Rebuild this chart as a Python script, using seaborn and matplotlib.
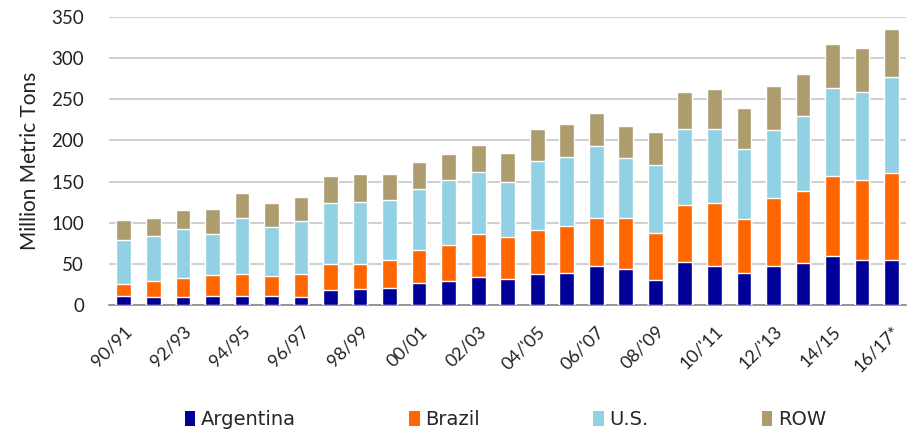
import numpy as np
import pandas as pd
import matplotlib
matplotlib.use("Agg")
import matplotlib.pyplot as plt
from matplotlib.patches import Patch
import seaborn as sns

seasons = ["90/91", "91/92", "92/93", "93/94", "94/95", "95/96", "96/97", "97/98",
           "98/99", "99/00", "00/01", "01/02", "02/03", "03/04", "04/'05", "05/'06",
           "06/'07", "07/'08", "08/'09", "09/'10", "10/'11", "11/'12", "12/'13",
           "13/'14", "14/15", "15/16", "16/17*"]
argentina = [10.5, 9.7, 9.7, 10.9, 11.3, 11.3, 10.1, 18.2, 19.0, 20.2, 27.0, 29.0, 34.3,
             31.1, 37.5, 39.2, 47.2, 44.4, 30.3, 52.5, 47.6, 38.4, 47.6, 51.7, 60.2, 55.3, 55.3]
brazil = [14.9, 19.3, 23.0, 25.4, 26.2, 24.2, 27.4, 32.3, 31.5, 34.3, 39.6, 43.7, 51.7,
          51.7, 53.3, 57.3, 59.0, 61.8, 57.7, 69.4, 75.9, 66.6, 82.4, 87.2, 96.8, 96.9, 104.6]
us = [53.3, 54.6, 59.3, 50.5, 68.3, 59.0, 65.0, 73.8, 74.7, 73.1, 74.7, 78.7, 75.5,
      66.6, 84.8, 83.2, 87.2, 73.0, 81.6, 92.1, 90.5, 84.7, 82.8, 91.2, 106.6, 107.0, 117.1]
row = [24.3, 22.2, 23.9, 29.5, 30.2, 29.0, 28.3, 32.3, 33.8, 31.9, 33.1, 32.3, 33.5,
       35.5, 38.8, 39.9, 40.3, 38.0, 40.7, 45.2, 48.4, 49.3, 53.7, 50.5, 54.1, 52.5, 58.9]
series_names = ["Argentina", "Brazil", "U.S.", "ROW"]
yticks = [0, 50, 100, 150, 200, 250, 300, 350]

colors = {"Argentina": "#000099", "Brazil": "#FF6600", "U.S.": "#92D1E3", "ROW": "#AD9C6E"}

sns.set_theme(style="white")
plt.rcParams["font.family"] = ["Lato", "DejaVu Sans"]

df = pd.DataFrame({"season": seasons, "Argentina": argentina, "Brazil": brazil,
                   "U.S.": us, "ROW": row})
cum = df[series_names].cumsum(axis=1)

fig = plt.figure(figsize=(9.09, 4.34), dpi=100)
ax = fig.add_axes([0.12, 0.297, 0.877, 0.664])

for name in reversed(series_names):
    sns.barplot(x=df["season"], y=cum[name], color=colors[name], width=0.5,
                edgecolor="white", linewidth=1.0, saturation=1, ax=ax, zorder=3)

ax.set_ylim(0, 350)
ax.set_xlim(-0.5, len(seasons) - 0.5)
ax.set_yticks(yticks)
ax.set_yticklabels([str(v) for v in yticks], fontsize=13.5, color="#222222")
ax.yaxis.grid(True, color="#D0D0D0", linewidth=1.5, zorder=0)
ax.set_axisbelow(True)
ax.set_xticks(range(0, len(seasons), 2))
ax.set_xticklabels(seasons[::2], rotation=45, ha="right", rotation_mode="anchor",
                   fontsize=13, color="#222222")
ax.tick_params(axis="y", length=0, pad=18)
ax.tick_params(axis="x", length=0, pad=13)
for s in ["top", "right", "left"]:
    ax.spines[s].set_visible(False)
ax.spines["bottom"].set_color("#888888")
ax.spines["bottom"].set_linewidth(1.2)
ax.set_xlabel("")
ax.set_ylabel("Million Metric Tons", fontsize=15, color="#222222", labelpad=8)

handles = [Patch(facecolor=colors[n], edgecolor="none", label=n) for n in series_names]
fig.legend(handles=handles, loc="center", bbox_to_anchor=(0.556, 0.033), ncol=4,
           frameon=False, handlelength=0.55, handleheight=0.75,
           handletextpad=0.3, columnspacing=5.8, prop={"family": "DejaVu Sans", "size": 14})

fig.savefig("out.png", dpi=100)
